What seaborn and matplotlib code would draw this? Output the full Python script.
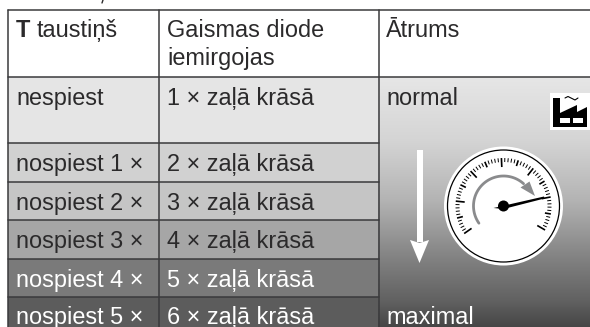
import numpy as np
import seaborn as sns
import matplotlib
matplotlib.use("Agg")
from matplotlib import pyplot as plt
from matplotlib.patches import Circle, Rectangle, Polygon

header = ["taustiņš", "Gaismas diode", "iemirgojas", "Ātrums"]
keys = ["nespiest", "nospiest 1 ×", "nospiest 2 ×", "nospiest 3 ×", "nospiest 4 ×", "nospiest 5 ×"]
leds = ["1 × zaļā krāsā", "2 × zaļā krāsā", "3 × zaļā krāsā", "4 × zaļā krāsā", "5 × zaļā krāsā", "6 × zaļā krāsā"]
speeds = ["normal", "maximal"]
row_grey = [0.895, 0.82, 0.77, 0.65, 0.48, 0.36]
row_edges = [77, 143, 182, 220, 259, 297, 327]
grad_y = [77, 140, 200, 260, 300, 327]
grad_grey = [0.90, 0.83, 0.70, 0.50, 0.38, 0.27]

sns.set_theme(style="white")
plt.rcParams["font.family"] = ["Liberation Sans", "DejaVu Sans"]

W, H = 590, 327
x0, x1, x2 = 8, 159, 378.5

# one heatmap cell = one pixel, so the axes work in pixels
grid = np.ones((H, W))
for i in range(len(row_grey)):
    grid[row_edges[i]:row_edges[i + 1], x0:int(x2)] = row_grey[i]
ramp = np.interp(np.arange(H), grad_y, grad_grey)
grid[77:, int(x2):] = ramp[77:, None]

fig = plt.figure(figsize=(W / 100, H / 100), dpi=100)
ax = fig.add_axes([0, 0, 1, 1])
sns.heatmap(grid, cmap="gray", vmin=0, vmax=1, cbar=False, ax=ax,
            xticklabels=False, yticklabels=False, rasterized=True)
ax.set_xlim(0, W)
ax.set_ylim(H, 0)
ax.axis("off")

line = "#3a3a3c"
lw = 1.1
ax.plot([x0, W], [10, 10], color=line, lw=lw)
ax.plot([x0, W], [77, 77], color=line, lw=lw)
ax.plot([x0, x0], [10, H], color=line, lw=lw)
ax.plot([x1, x1], [10, H], color=line, lw=lw)
ax.plot([x2, x2], [10, H], color=line, lw=lw)
for y in row_edges[1:-1]:
    ax.plot([x0, x2], [y, y], color=line, lw=lw)

fs = 16.9
dark = "#2b2a2b"
ax.text(16, 37, "T", fontsize=fs, weight="bold", color=dark, va="baseline")
ax.text(37, 37, header[0], fontsize=fs, color=dark, va="baseline")
ax.text(167, 37, header[1], fontsize=fs, color=dark, va="baseline")
ax.text(167, 65, header[2], fontsize=fs, color=dark, va="baseline")
ax.text(386, 37, header[3], fontsize=fs, color=dark, va="baseline")

text_y = [105, 171, 210, 248, 287, 324]
for i in range(6):
    c = "white" if i >= 4 else dark
    ax.text(16, text_y[i], keys[i], fontsize=fs, color=c, va="baseline")
    ax.text(167, text_y[i], leds[i], fontsize=fs, color=c, va="baseline")
ax.text(386, 105, speeds[0], fontsize=fs, color=dark, va="baseline")
ax.text(386, 324, speeds[1], fontsize=fs, color="white", va="baseline")

# down arrow
ax.add_patch(Rectangle((417, 150), 5.5, 92, color="white", lw=0))
ax.add_patch(Polygon([[410, 240], [419.5, 243], [429, 240], [419.5, 263]], color="white", lw=0))

# gauge
cx, cy = 503.5, 206
ax.add_patch(Circle((cx, cy), 59.5, color="white", lw=0))
ax.add_patch(Circle((cx, cy), 56, fill=False, ec="black", lw=0.9))
for i, a in enumerate(np.linspace(215, -30, 61)):
    t = np.deg2rad(a)
    major = i % 5 == 0
    r0 = 39 if i % 10 == 0 else (42 if major else 44)
    ax.plot([cx + r0 * np.cos(t), cx + 48 * np.cos(t)],
            [cy - r0 * np.sin(t), cy - 48 * np.sin(t)],
            color="black", lw=1.2 if major else 0.7, solid_capstyle="butt")
th = np.deg2rad(np.linspace(215, 48, 60))
ax.plot(cx + 30 * np.cos(th), cy - 30 * np.sin(th), color="#8a8b8d", lw=2)
ax.add_patch(Polygon([[520.5, 187.5], [535, 196], [529.5, 181.5]], color="#8a8b8d", lw=0))
ax.add_patch(Polygon([[cx - 10, cy + 2], [544, 196.5], [544.5, 198.5], [cx, cy + 3]], color="black", lw=0))
ax.add_patch(Circle((cx, cy), 5.5, color="black", lw=0))

# factory icon
ax.add_patch(Rectangle((550, 93), 40, 37, color="white", lw=0))
ax.add_patch(Polygon([[553, 98], [560, 98], [560, 113], [577, 105], [577, 112], [587, 107],
                      [587, 127], [553, 127]], color="black", lw=0))
ax.add_patch(Rectangle((560, 118), 10, 5, color="white", lw=0))
ax.add_patch(Rectangle((573, 118), 10, 5, color="white", lw=0))
ax.plot([565, 568, 571, 575, 578], [98, 96.5, 98, 100, 98], color="black", lw=0.8)

# tail of the letter from the line above the table
ax.plot([103, 102], [0, 3], color=dark, lw=1)

fig.savefig("out.png", dpi=100)
